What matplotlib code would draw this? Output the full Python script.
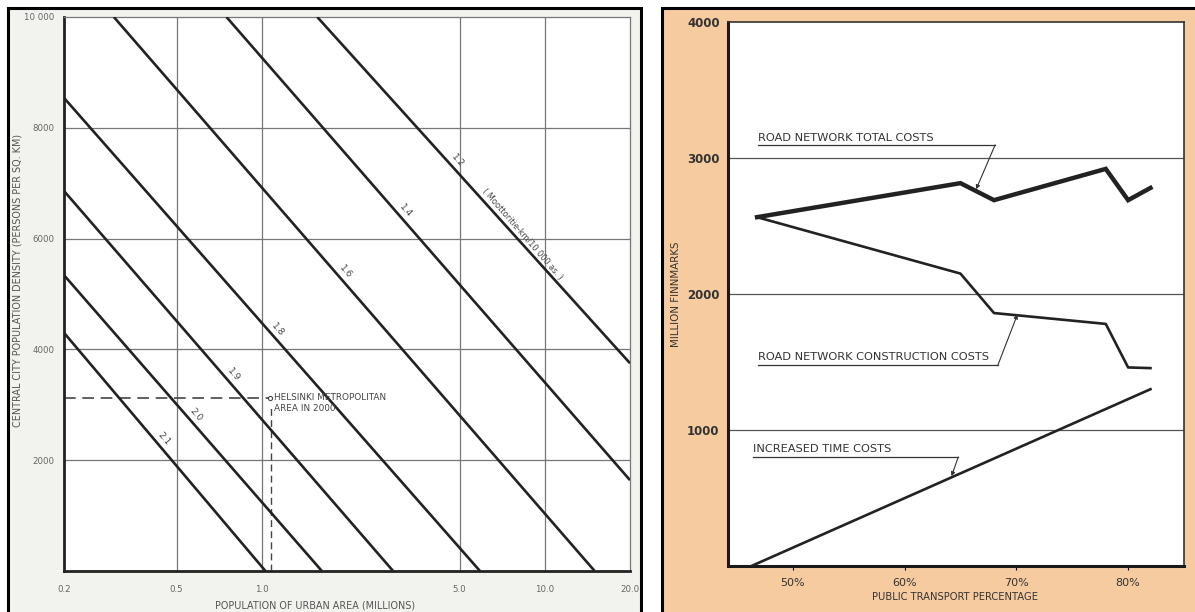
import matplotlib
matplotlib.use("Agg")
import matplotlib.pyplot as plt
from matplotlib.patches import Rectangle
import numpy as np

W, H = 1195, 612

# left chart: motorway km / 10 000 inhabitants lines
line_labels = ["2.1", "2.0", "1.9", "1.8", "1.6", "1.4", "1.2"]
line_pop_start = [0.2, 0.2, 0.2, 0.2, 0.30, 0.75, 1.57]
line_dens_start = [4300, 5340, 6860, 8540, 10000, 10000, 10000]
line_pop_end = [1.03, 1.63, 2.91, 5.9, 15.0, 20.0, 20.0]
line_dens_end = [0, 0, 0, 0, 0, 1640, 3750]
label_pop = [0.43, 0.56, 0.76, 1.09, 1.89, 3.08, 4.70]
pop_ticks = [0.2, 0.5, 1.0, 5.0, 10.0, 20.0]
pop_ticklabels = ["0.2", "0.5", "1.0", "5.0", "10.0", "20.0"]
dens_ticks = [2000, 4000, 6000, 8000, 10000]
dens_ticklabels = ["2000", "4000", "6000", "8000", "10 000"]
helsinki_pop = 1.07
helsinki_dens = 3120

# right chart: costs vs public transport share
pct = [46.8, 65, 68, 78, 80, 82]
total_costs = [2565, 2815, 2690, 2920, 2690, 2780]
construction_costs = [2565, 2150, 1860, 1780, 1460, 1455]
time_pct = [46.3, 82]
time_costs = [0, 1300]
pct_ticks = [50, 60, 70, 80]
pct_ticklabels = ["50%", "60%", "70%", "80%"]
cost_ticks = [1000, 2000, 3000, 4000]


def box(x0, y0, x1, y1):
    return [x0 / W, 1 - y1 / H, (x1 - x0) / W, (y1 - y0) / H]


def interp_log(p, p0, y0, p1, y1):
    t = (np.log10(p) - np.log10(p0)) / (np.log10(p1) - np.log10(p0))
    return y0 + (y1 - y0) * t


fig = plt.figure(figsize=(W / 100, H / 100), dpi=100)
fig.patch.set_facecolor("white")

# panel backgrounds
fig.patches.append(Rectangle((8 / W, -0.05), (641 - 8) / W, 1 - 8 / H + 0.05,
                             transform=fig.transFigure, facecolor="#f2f2ee",
                             edgecolor="black", lw=2.2, zorder=-5))
fig.patches.append(Rectangle((662 / W, -0.05), 0.5, 1 - 8 / H + 0.05,
                             transform=fig.transFigure, facecolor="#f7cba0",
                             edgecolor="black", lw=2.2, zorder=-5))

gray = "#666666"

# ---------- left chart ----------
ax = fig.add_axes(box(64, 17, 630, 571))
ax.set_facecolor("white")
ax.set_xscale("log")
ax.set_xlim(0.2, 20)
ax.set_ylim(0, 10000)
ax.set_xticks(pop_ticks)
ax.set_xticklabels(pop_ticklabels)
ax.minorticks_off()
ax.set_yticks(dens_ticks)
ax.set_yticklabels(dens_ticklabels)
ax.tick_params(axis="y", length=0, labelsize=6.2, labelcolor=gray, pad=7)
ax.tick_params(axis="x", length=0, labelsize=6.2, labelcolor=gray, pad=10)
for x in pop_ticks[1:-1]:
    ax.axvline(x, color="#777777", lw=0.9, zorder=1)
for y in dens_ticks[:-1]:
    ax.axhline(y, color="#777777", lw=0.9, zorder=1)
for s in ["left", "bottom"]:
    ax.spines[s].set_linewidth(2)
    ax.spines[s].set_color("#222222")
for s in ["top", "right"]:
    ax.spines[s].set_linewidth(0.9)
    ax.spines[s].set_color("#777777")

for i, lab in enumerate(line_labels):
    ax.plot([line_pop_start[i], line_pop_end[i]], [line_dens_start[i], line_dens_end[i]],
            color="#222222", lw=1.9, zorder=3, solid_capstyle="butt")
    ly = interp_log(label_pop[i], line_pop_start[i], line_dens_start[i],
                    line_pop_end[i], line_dens_end[i])
    ax.annotate(lab, (label_pop[i], ly), xytext=(4, 4), textcoords="offset points",
                rotation=-49, fontsize=6.5, color="#444444", ha="center", va="center",
                rotation_mode="anchor")

mp = 8.0
my = interp_log(mp, line_pop_start[-1], line_dens_start[-1], line_pop_end[-1], line_dens_end[-1])
ax.annotate("( Moottoritie-km/10 000 as. )", (mp, my), xytext=(3.5, 3.5), textcoords="offset points",
            rotation=-49, fontsize=5.9, color="#444444", ha="center", va="center",
            rotation_mode="anchor")

# Helsinki marker
ax.plot([0.2, helsinki_pop], [helsinki_dens, helsinki_dens], color="#444444",
        lw=1.2, dashes=(7, 4), zorder=2)
ax.plot([helsinki_pop * 1.01, helsinki_pop * 1.01], [0, helsinki_dens - 150], color="#444444",
        lw=1.0, dashes=(5, 3), zorder=2)
ax.plot([helsinki_pop], [helsinki_dens], marker="o", ms=3, mfc="white", mec="#444444",
        mew=0.8, zorder=4)
ax.text(helsinki_pop * 1.03, helsinki_dens + 90, "HELSINKI METROPOLITAN\nAREA IN 2000",
        fontsize=6.4, color="#444444", va="top", ha="left", linespacing=1.2)

fig.text(18 / W, 1 - 280 / H, "CENTRAL CITY POPULATION DENSITY (PERSONS PER SQ. KM)",
         rotation=90, fontsize=6.9, color="#555555", ha="center", va="center")
fig.text(315 / W, 1 - 605 / H, "POPULATION OF URBAN AREA (MILLIONS)",
         fontsize=6.9, color="#555555", ha="center", va="center")

# ---------- right chart ----------
bx = fig.add_axes(box(728, 22, 1184, 566))
bx.set_facecolor("white")
bx.set_xlim(44.2, 85)
bx.set_ylim(0, 4000)
bx.set_xticks(pct_ticks)
bx.set_xticklabels(pct_ticklabels)
bx.set_yticks(cost_ticks)
bx.tick_params(axis="x", length=3, width=0.8, labelsize=8, labelcolor="#333333", pad=6)
bx.tick_params(axis="y", length=0, labelsize=8.5, labelcolor="#333333", pad=6)
for t in bx.get_yticklabels():
    t.set_fontweight("bold")
for y in cost_ticks[:-1]:
    bx.axhline(y, color="#555555", lw=0.9, zorder=1)
for s in ["left", "bottom"]:
    bx.spines[s].set_linewidth(2.2)
    bx.spines[s].set_color("#1a1a1a")
for s in ["top", "right"]:
    bx.spines[s].set_linewidth(1.2)
    bx.spines[s].set_color("#333333")

bx.plot(pct, total_costs, color="#222222", lw=3.2, solid_joinstyle="miter", zorder=3)
bx.plot(pct, construction_costs, color="#222222", lw=1.9, zorder=3)
bx.plot(time_pct, time_costs, color="#222222", lw=1.9, zorder=3)

notes = [
    ("ROAD NETWORK TOTAL COSTS", 46.9, 3150, 3096, 68.1, 66.4, 2770),
    ("ROAD NETWORK CONSTRUCTION COSTS", 46.9, 1535, 1478, 68.35, 70.1, 1850),
    ("INCREASED TIME COSTS", 46.4, 858, 801, 64.8, 64.2, 660),
]
for txt, x0, ty, uy, ux, ax_, ay in notes:
    bx.text(x0, ty, txt, fontsize=8.2, color="#333333", ha="left", va="center", zorder=4)
    bx.plot([x0, ux], [uy, uy], color="#333333", lw=0.9, zorder=4)
    bx.annotate("", xy=(ax_, ay), xytext=(ux, uy),
                arrowprops=dict(arrowstyle="-|>", color="#333333", lw=0.8,
                                mutation_scale=6, shrinkA=0, shrinkB=0), zorder=4)

fig.text(676 / W, 1 - 294 / H, "MILLION FINNMARKS", rotation=90, fontsize=7.4,
         color="#333333", ha="center", va="center")
fig.text(955 / W, 1 - 597 / H, "PUBLIC TRANSPORT PERCENTAGE", fontsize=7.2,
         color="#333333", ha="center", va="center")

fig.savefig("out.png", dpi=100, facecolor=fig.get_facecolor())
